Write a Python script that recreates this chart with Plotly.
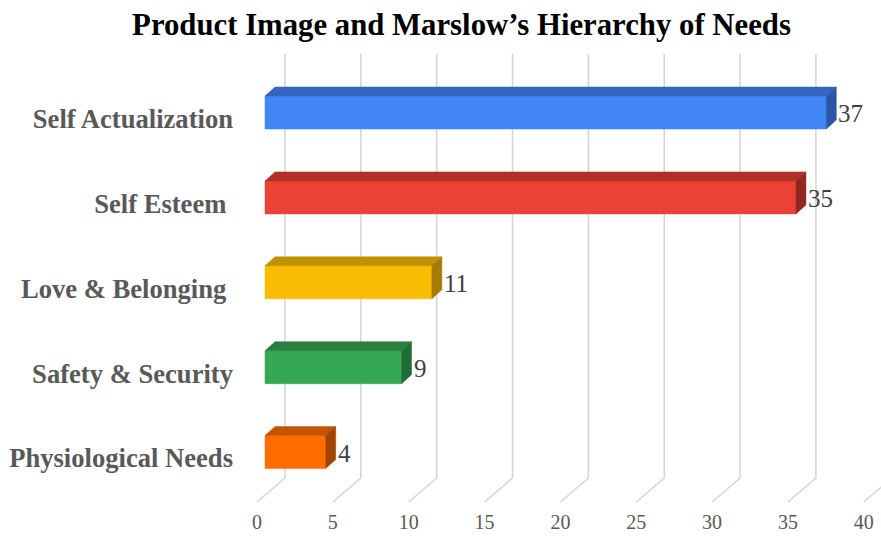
import plotly.graph_objects as go

# ---------------- data ----------------
categories = ["Physiological Needs", "Safety & Security", "Love & Belonging\u00a0",
              "Self Esteem\u00a0", "Self Actualization"]
values = [4, 9, 11, 35, 37]
front_colors = ["#FF6D01", "#34A853", "#FBBC04", "#EA4335", "#4285F4"]
top_colors = ["#C55300", "#27803F", "#C19100", "#B2302A", "#3367BF"]
side_colors = ["#A34400", "#216B34", "#A67C00", "#952720", "#2B56A5"]
tick_values = [0, 5, 10, 15, 20, 25, 30, 35, 40]
tick_labels = [str(t) for t in tick_values]
title_text = "Product Image and Marslow\u2019s Hierarchy of Needs"

# ---------------- geometry (pixel based helpers) ----------------
W, H = 881, 536
PX_X = 15.17          # pixels per value unit
PX_Y = 84.9           # pixels per category step
ML, MR, MT, MB = 240, 0, 40, 28
ZERO_PX = 265         # pixel of value 0 on bar front face
TOP_CAT_PX = 112.5    # pixel centre of top category front face

def ux(px):  # x pixel offset -> value units
    return px / PX_X

def uy(px):  # y pixel offset -> category units
    return px / PX_Y

n = len(categories)
x_range = [-(ZERO_PX - ML) / PX_X, (W - MR - ZERO_PX) / PX_X]
y_top = (n - 1) + (TOP_CAT_PX - MT) / PX_Y
y_bot = y_top - (H - MT - MB) / PX_Y

half_h = uy(16.5)
bar_dx, bar_dy = ux(10), uy(9)
grid_back_dx = ux(20)       # back gridline offset from bar front zero
grid_front_dx = ux(-8)      # front (tick) offset
grid_top = (n - 1) + (TOP_CAT_PX - 54) / PX_Y
grid_back_bot = -(478 - (TOP_CAT_PX + (n - 1) * PX_Y)) / PX_Y
grid_front_bot = -(502 - (TOP_CAT_PX + (n - 1) * PX_Y)) / PX_Y

fig = go.Figure()

# gridlines with 3D floor
gx, gy = [], []
for t in tick_values:
    gx += [t + grid_back_dx, t + grid_back_dx, t + grid_front_dx, None]
    gy += [grid_top, grid_back_bot, grid_front_bot, None]
fig.add_trace(go.Scatter(x=gx, y=gy, mode="lines",
                         line=dict(color="#D6D6D6", width=1.6),
                         hoverinfo="skip", showlegend=False))

# bars
for i, (cat, v) in enumerate(zip(categories, values)):
    y = i
    # front
    fig.add_trace(go.Scatter(
        x=[0, v, v, 0, 0], y=[y - half_h, y - half_h, y + half_h, y + half_h, y - half_h],
        fill="toself", fillcolor=front_colors[i], mode="lines",
        line=dict(color=front_colors[i], width=0.5), hoverinfo="skip", showlegend=False))
    # top
    fig.add_trace(go.Scatter(
        x=[0, v, v + bar_dx, bar_dx, 0],
        y=[y + half_h, y + half_h, y + half_h + bar_dy, y + half_h + bar_dy, y + half_h],
        fill="toself", fillcolor=top_colors[i], mode="lines",
        line=dict(color=top_colors[i], width=0.5), hoverinfo="skip", showlegend=False))
    # side
    fig.add_trace(go.Scatter(
        x=[v, v + bar_dx, v + bar_dx, v, v],
        y=[y - half_h, y - half_h + bar_dy, y + half_h + bar_dy, y + half_h, y - half_h],
        fill="toself", fillcolor=side_colors[i], mode="lines",
        line=dict(color=side_colors[i], width=0.5), hoverinfo="skip", showlegend=False))
    # value label
    fig.add_annotation(x=v + bar_dx, y=y, text=str(v), showarrow=False,
                       xanchor="left", yanchor="middle", xshift=0, yshift=-1,
                       font=dict(family="Liberation Serif", size=25, color="#404040"))

fig.update_layout(
    width=W, height=H,
    margin=dict(l=ML, r=MR, t=MT, b=MB, pad=0),
    paper_bgcolor="white", plot_bgcolor="white",
    title=dict(text=title_text, x=461.5 / W, xref="container", xanchor="center",
               y=1 - 24 / H, yref="container", yanchor="middle",
               font=dict(family="Liberation Serif", size=30.75, color="black", weight="bold")),
    xaxis=dict(range=x_range, tickmode="array",
               tickvals=[t + grid_front_dx for t in tick_values], ticktext=tick_labels,
               showgrid=False, zeroline=False, showline=False, ticks="",
               tickfont=dict(family="Liberation Serif", size=20, color="#595959"),
               fixedrange=True),
    yaxis=dict(range=[y_bot, y_top], tickmode="array",
               tickvals=[i - uy(6) for i in range(n)], ticktext=categories,
               showgrid=False, zeroline=False, showline=False, ticks="",
               ticklabelstandoff=6,
               tickfont=dict(family="Liberation Serif", size=26.6, color="#595959", weight="bold"),
               fixedrange=True),
    showlegend=False,
)

fig.write_html("out.html")
